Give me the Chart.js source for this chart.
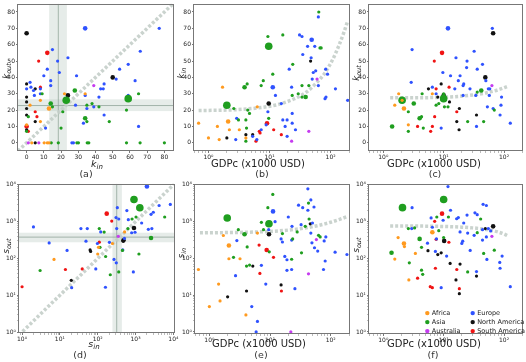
<!DOCTYPE html>
<html>
<head>
<meta charset="utf-8">
<script src="https://cdn.jsdelivr.net/npm/chart.js@4.4.1/dist/chart.umd.min.js"></script>
<style>
  html, body { margin: 0; padding: 0; background: #fff; }
  #wrap { position: relative; width: 526px; height: 362px; overflow: hidden; }
  canvas { position: absolute; }
</style>
</head>
<body>
<div id="wrap">
  <canvas id="pa" width="182" height="180" style="left:0px;top:0px"></canvas>
  <canvas id="pb" width="182" height="180" style="left:175px;top:0px"></canvas>
  <canvas id="pc" width="176" height="180" style="left:350px;top:0px"></canvas>
  <canvas id="pd" width="182" height="182" style="left:0px;top:180px"></canvas>
  <canvas id="pe" width="182" height="182" style="left:175px;top:180px"></canvas>
  <canvas id="pf" width="176" height="182" style="left:350px;top:180px"></canvas>
</div>
<script>
var continents = ['Africa', 'Asia', 'Australia', 'Europe', 'North America', 'South America'];
var continentColors = ['#ff9a1f', '#1f9e1f', '#c63cf0', '#2f52ff', '#111111', '#f01414'];

// axis ticks / ranges
var kTicks = [0, 10, 20, 30, 40, 50, 60, 70, 80];
var kRange = [-5, 85];
var gdpTicks = [1, 10, 100];
var gdpRange = [0.58, 200];
var sTicks = [1, 10, 100, 1000, 10000];
var dRangeX = [0.83, 10400];
var dRangeY = [0.94, 10700];
var sRangeY = [0.88, 10700];

// points: [continent, x, y, size]
// (a) k_in vs k_out
var aPoints = [
  [4,0,67,2],[4,0,36],[4,0,28],[4,0,25],[4,0,21],[4,0,17],[4,0,8],[4,5,33],[4,5,13],[4,5,0],[4,24,29,2],[4,50,40,2],
  [3,0,33],[3,2,37],[3,2.5,34],[3,4,32],[3,4.5,29],[3,8,33],[3,8,30],[3,10,41],[3,12,45],[3,11,9],[3,14,38],[3,14,35],
  [3,15,57],[3,18,50],[3,19,43],[3,24,52],[3,29,41],[3,28.4,23],[3,34,70,2],[3,34,29],[3,35,21],[3,33,12],[3,39,22],
  [3,42,28],[3,43,33],[3,44.5,33],[3,45,36],[3,45,17],[3,52,39],[3,54,45],[3,59,48],[3,59,29],[3,63,38],[3,66,56],
  [3,65,10],[3,77,70],[3,26.3,0],[3,27.2,0],
  [5,0,10,2],[5,1,7],[5,5,19],[5,6,16],[5,7,50],[5,12,55,2],[5,8,34],
  [0,0,11],[0,2,23],[0,8,26],[0,8,13],[0,13,21,2],[0,22,30],[0,34,30],[0,3,0],[0,10.2,0],[0,12,0],[0,13,0],
  [1,1,16],[1,0,7],[1,9,30],[1,14,24,2],[1,15,22],[1,21,19],[1,20,9],[1,23,26,3],[1,28,32,2],[1,35,23],[1,34,15,2],
  [1,35,13],[1,38,24],[1,42,22],[1,48,13],[1,59,27,3],[1,58,20],[1,65,30],[1,14.3,0],[1,18.4,0],[1,29.2,0],[1,30.1,0],
  [1,35.2,0],[1,36.1,0],[1,58,0],[1,65.9,0],[1,80,0],
  [2,39,35],[2,1,0],[2,7.1,0]
];
var aDiagX = [-5, 85];
var aDiagY = [-5, 85];
var aBandX = [13.1, 18.4, 23.4];
var aBandY = [19.4, 22.8, 26.6];

// (b) GDPc vs k_in
var bPoints = [
  [1,64,80],[1,16.5,66],[1,9.4,65],[1,9.7,59,3],[1,67,58],[1,70,58],[1,24,48],[1,11.3,42],[1,7.9,38],[1,4.3,36],
  [1,3.9,34,2],[1,7.3,35],[1,34,35],[1,44,35],[1,29.5,30],[1,23.5,29],[1,34,28],[1,39,28,2],[1,2.0,23,3],[1,2.6,21],
  [1,4.4,20],[1,4.7,18],[1,3.1,14],[1,4.1,14],[1,9.7,15],[1,4.2,9],[1,4.1,1],
  [3,63,77],[3,31,66],[3,34,65],[3,49,63,2],[3,42,59],[3,55,59],[3,35,54],[3,48,52],[3,21,45],[3,83,45],[3,89,42],
  [3,57,44],[3,52,43],[3,50,39],[3,11.3,34,2],[3,23,34],[3,63,35],[3,12.5,29],[3,120,33],[3,81,27],[3,84,28],[3,190,26],
  [3,15.6,24],[3,9.4,19],[3,23.5,18],[3,2.9,15],[3,16.5,14],[3,19.4,14],[3,23.5,12],[3,18,10],[3,8.8,11],[3,7.3,8],
  [3,26.6,8],[3,6.2,2],[3,2.8,2],[3,19.4,4],[3,5.3,4],
  [4,47,50],[4,9.7,24,2],[4,2.0,3],[4,4.1,5],[4,5.3,5],
  [0,1.7,34],[0,6.3,22],[0,0.69,12],[0,2.1,13,2],[0,1.4,10],[0,2.2,8],[0,3.2,8],[0,1.0,3],[0,1.5,2],[0,4.1,3],
  [5,9.1,12,2],[5,11.7,8],[5,6.8,7],[5,7.0,6],[5,6.0,1],[5,15.6,5],
  [2,60,39],[2,23,1],[2,44,7]
];
var bTrendX = [0.69, 3, 8, 15, 25, 40, 60, 80, 105, 135, 165, 190];
var bTrendY = [19.7, 20.3, 21.8, 23.8, 26.8, 31, 37, 42.5, 50, 59, 67.5, 74.5];

// (c) GDPc vs k_out
var cPoints = [
  [3,11.8,70,2],[3,64,70],[3,3.0,57],[3,32,56],[3,16,52],[3,24.4,50],[3,44,48],[3,24,46],[3,36,45],[3,9.7,43],[3,13,41],
  [3,18.7,41],[3,50,38],[3,17.5,38],[3,2.9,37],[3,21.5,36],[3,21,35],[3,6.5,34],[3,15.3,33],[3,55,33],[3,58,33],
  [3,27.3,33],[3,7.5,30],[3,21,29],[3,34,29],[3,57,29],[3,91,28],[3,53,22],[3,66,21],[3,89,23],[3,9.1,9],[3,35,10],
  [3,86,17],[3,127,12],
  [4,66,67,2],[4,49,40,2],[4,9.1,36],[4,5.6,33],[4,10,29,2],[4,8,28],[4,12.5,25],[4,18.2,21],[4,16.5,13],[4,35,17],[4,18,8],
  [5,9.4,55,2],[5,7.0,50],[5,12.3,34],[5,7.5,33],[5,16.5,19],[5,7.1,16],[5,3.7,10],[5,6.5,10],[5,6.1,7],
  [0,1.8,30],[0,6.5,30],[0,2.05,26],[0,1.55,23],[0,2.2,21,2],[0,2.6,11],
  [1,4.4,30],[1,10,30],[1,42,32,2],[1,36,31],[1,2.05,26,3],[1,10,27,3],[1,3.2,24,2],[1,8.3,24],[1,7.5,23],[1,10.3,22],
  [1,11.8,22],[1,69,20],[1,2.6,19],[1,4.0,15,2],[1,4.3,16],[1,25,13],[1,46,13],[1,1.4,10,2],[1,4.6,9],[1,2.6,7],
  [2,63,35]
];
var cTrendX = [1.3, 5, 15, 30, 50, 80, 115];
var cTrendY = [27.5, 27.6, 28.2, 29.2, 30.5, 32.4, 34.5];

// (d) s_in vs s_out
var dPoints = [
  [3,2000,9000,2],[3,8300,2950],[3,4200,2750],[3,330,2400],[3,590,2000],[3,2950,1800],[3,2570,1580],[3,305,1290],
  [3,360,1180],[3,645,1130],[3,1450,920],[3,2.0,720],[3,36,650],[3,53,650],[3,318,650],[3,2180,620],[3,2700,650],
  [3,120,525],[3,970,515],[3,790,500],[3,510,350],[3,49,295],[3,5.2,265],[3,98,255],[3,204,275],[3,15.5,165],[3,460,170],
  [3,270,94],[3,310,76],[3,89,52],[3,875,43],[3,20.5,16],[3,160,16.5],
  [1,910,4000,3],[1,1300,2400,3],[1,5900,1340],[1,1030,1340],[1,810,1180],[1,110,650],[1,630,650],[1,148,520],
  [1,2570,360,2],[1,115,200],[1,1230,132],[1,162,113],[1,3.0,47],[1,360,43],[1,215,36],[1,450,165],
  [5,173,1650,2],[5,235,1040],[5,14,50],[5,39,52],[5,1.0,17],[5,110,277],
  [0,515,525],[0,245,255],[0,105,200],[0,100,132],[0,7.0,94],
  [2,350,400],
  [4,480,310,2],[4,470,295],[4,63,170],[4,65,155],[4,20,25.5],[4,910,670,2]
];
var dDiagX = [0.83, 10700];
var dDiagY = [0.83, 10700];
var dBandX = [245, 318, 435];
var dBandY = [275, 380, 500];

// (e) GDPc vs s_in
var ePoints = [
  [3,42,7800],[3,47,3900],[3,29.5,2800],[3,34.5,2400],[3,53,2500],[3,42,2040],[3,11.2,1900,2],[3,20,1340],[3,12.1,1000],
  [3,50,920],[3,32.5,830],[3,23,745],[3,9.5,605],[3,47,490],[3,83,385],[3,2.84,305],[3,15.2,340],[3,16,280],[3,22.7,315],
  [3,78,300],[3,49,265],[3,54,195],[3,61,158],[3,118,148],[3,185,128],[3,17.5,113],[3,19,92],[3,81,85],[3,7.2,65],
  [3,19,47.5],[3,22.7,50],[3,76,50],[3,2.7,34],[3,8.5,20],[3,25.7,15],[3,5.0,4.9],[3,6.2,1.94],[3,5.9,1],
  [1,11.1,5500],[1,43,3200],[1,9.2,2400],[1,1.97,1260,3],[1,44,1180],[1,7.2,960],[1,9.6,880,3],[1,38,745],[1,3.0,605],
  [1,7.8,605],[1,3.8,455,2],[1,16,475],[1,28,525],[1,63,425],[1,67,385],[1,23.6,340],[1,4.2,205],[1,9.7,151],[1,33,142],
  [1,2.5,107],[1,22.7,95],[1,4.1,62],[1,4.6,66],
  [4,9.6,455,2],[4,46,870],[4,5.2,62],[4,15.2,19],[4,4.1,13],[4,2.0,9],
  [0,6.2,490],[0,1.7,420],[0,2.1,225,2],[0,2.1,98],[0,3.2,98],[0,0.66,50],[0,1.42,20],[0,1.5,7],[0,1.0,4.9],[0,4.0,2.9],
  [5,6.6,230],[5,8.8,170,2],[5,11.4,107],[5,6.8,39],[5,15.4,13],
  [2,58,325],[2,43,38],[2,22,1]
];
var eTrendX = [0.7, 3, 10, 17, 30, 42, 60, 80, 100, 140, 190];
var eTrendY = [498, 509, 542, 575, 636, 692, 777, 871, 965, 1153, 1388];

// (f) GDPc vs s_out
var fPoints = [
  [3,11.8,9000],[3,3.0,2400],[3,45,2950],[3,51,2750],[3,13,2040],[3,33,1740],[3,36,1550],[3,24.4,1510],[3,17.5,1290],
  [3,16.4,1200],[3,6.2,1260],[3,9.8,1090],[3,21.5,920],[3,6.5,705],[3,2.96,650],[3,44,605],[3,55,650],[3,60,560],
  [3,18.7,525],[3,25,490],[3,32,425],[3,51,385],[3,44,315],[3,7.6,340],[3,20.7,295],[3,20,255],[3,5.4,260],[3,27.5,165],
  [3,7.3,155],[3,11.2,116],[3,93,116],[3,52,94],[3,85,78],[3,86,54],[3,35,44],[3,127,17],[3,9.1,16],
  [1,10,4000,3],[1,2.08,2400,3],[1,12,1340],[1,7.7,1340],[1,41,1180],[1,2.6,650],[1,3.3,675],[1,8.3,570],[1,36,500],
  [1,10,370],[1,4.0,340,2],[1,69,168],[1,4.3,200],[1,1.37,142,2],[1,46,137],[1,2.7,76],[1,4.3,48],[1,4.5,37],[1,25,43],
  [5,9.4,1650,2],[5,7.1,1020],[5,7.5,330],[5,12.2,275],[5,7.3,54],[5,16.5,50],[5,3.7,29],[5,6,17],[5,6.5,16],[5,18.2,15],
  [4,66,745,2],[4,49,650],[4,10.2,300,2],[4,5.5,162],[4,9.1,142],[4,8,127],[4,12.8,73],[4,18.7,70],[4,35,33],[4,16,26],[4,18.2,11],
  [0,6.5,515,2],[0,1.76,370],[0,2.2,255,2],[0,2.24,210],[0,3.4,137],[0,1.55,96],[0,2.65,26],
  [2,63,400]
];
var fTrendX = [1.3, 3, 10, 20, 30, 42, 60, 80, 100, 117];
var fTrendY = [766, 761, 739, 708, 677, 640, 584, 522, 460, 407];

var dotRadius = [0, 1.6, 2.3, 3.8];
var trendColor = 'rgba(196,206,201,0.9)';
var FONT = '"DejaVu Sans"';
var supDigits = ['\u2070', '\u00b9', '\u00b2', '\u00b3', '\u2074'];

function minorTicks(lo, hi) {
  var out = [];
  for (var e = Math.floor(Math.log10(lo)); e <= Math.ceil(Math.log10(hi)); e++) {
    for (var m = 2; m <= 9; m++) {
      var v = m * Math.pow(10, e);
      if (v >= lo && v <= hi) out.push(v);
    }
  }
  return out;
}

function makeAxis(type, range, majors, boxSize) {
  var isLog = type === 'logarithmic';
  return {
    type: type,
    min: range[0],
    max: range[1],
    afterBuildTicks: function (scale) {
      var t = majors.map(function (v) { return { value: v, major: true }; });
      if (isLog) minorTicks(range[0], range[1]).forEach(function (v) { t.push({ value: v, major: false }); });
      t.sort(function (p, q) { return p.value - q.value; });
      scale.ticks = t;
    },
    afterFit: function (scale) {
      if (scale.isHorizontal()) scale.height = boxSize; else scale.width = boxSize;
      scale.paddingLeft = 0; scale.paddingRight = 0; scale.paddingTop = 0; scale.paddingBottom = 0;
    },
    grid: {
      drawOnChartArea: false, drawTicks: true, tickLength: 2, lineWidth: 0.8,
      tickColor: function (c) { return c.tick && c.tick.major ? '#555' : '#aaa'; }
    },
    border: { display: false },
    ticks: {
      autoSkip: false, maxRotation: 0, padding: 1, color: '#222',
      font: { family: 'DejaVu Sans', size: 6 },
      callback: function (v) {
        if (majors.indexOf(v) < 0) return '';
        if (isLog) return '10' + supDigits[Math.round(Math.log10(v))];
        return String(v);
      }
    }
  };
}

// parts: [text, kind], kind i = italic symbol, sub = subscript, n = plain
function drawRich(ctx, parts, cx, baseY, big) {
  var fonts = {
    i: 'italic ' + (big ? 9.5 : 8.5) + 'px ' + FONT,
    sub: 'italic ' + (big ? 7 : 6.5) + 'px ' + FONT,
    n: '10px ' + FONT
  };
  var widths = [], total = 0;
  parts.forEach(function (p) { ctx.font = fonts[p[1]]; var w = ctx.measureText(p[0]).width; widths.push(w); total += w; });
  var x = cx - total / 2;
  ctx.textAlign = 'left';
  ctx.textBaseline = 'alphabetic';
  parts.forEach(function (p, i) {
    ctx.font = fonts[p[1]];
    ctx.fillText(p[0], x, baseY + (p[1] === 'sub' ? 2.5 : 0));
    x += widths[i];
  });
}

function decorPlugin(p) {
  return {
    id: 'decor',
    beforeDatasetsDraw: function (chart) {
      if (!p.bandX) return;
      var ctx = chart.ctx, a = chart.chartArea, xs = chart.scales.x, ys = chart.scales.y;
      ctx.save();
      ctx.beginPath(); ctx.rect(a.left, a.top, a.right - a.left, a.bottom - a.top); ctx.clip();
      ctx.fillStyle = 'rgba(165,188,176,0.28)';
      var x0 = xs.getPixelForValue(p.bandX[0]), x1 = xs.getPixelForValue(p.bandX[2]);
      ctx.fillRect(x0, a.top, x1 - x0, a.bottom - a.top);
      var y0 = ys.getPixelForValue(p.bandY[2]), y1 = ys.getPixelForValue(p.bandY[0]);
      ctx.fillRect(a.left, y0, a.right - a.left, y1 - y0);
      ctx.strokeStyle = 'rgba(140,160,150,0.75)';
      ctx.lineWidth = 1;
      var xc = xs.getPixelForValue(p.bandX[1]), yc = ys.getPixelForValue(p.bandY[1]);
      ctx.beginPath();
      ctx.moveTo(xc, a.top); ctx.lineTo(xc, a.bottom);
      ctx.moveTo(a.left, yc); ctx.lineTo(a.right, yc);
      ctx.stroke();
      ctx.restore();
    },
    afterDraw: function (chart) {
      var ctx = chart.ctx, a = chart.chartArea;
      ctx.save();
      // frame
      ctx.strokeStyle = '#777';
      ctx.lineWidth = 1;
      ctx.strokeRect(Math.round(a.left) - 0.5, Math.round(a.top) + 0.5, Math.round(a.right - a.left) + 1, Math.round(a.bottom - a.top) - 1);
      // x title + caption
      ctx.fillStyle = '#222';
      drawRich(ctx, p.xTitle, p.xTitleX, p.xTitleY, true);
      ctx.font = '9.5px ' + FONT;
      ctx.fillStyle = '#333';
      ctx.textAlign = 'center';
      ctx.textBaseline = 'alphabetic';
      ctx.fillText(p.caption, p.captionX, p.captionY);
      // y title (rotated)
      ctx.fillStyle = '#222';
      ctx.save();
      ctx.translate(8.5, p.yTitleY);
      ctx.rotate(-Math.PI / 2);
      drawRich(ctx, p.yTitle, 0, 0, false);
      ctx.restore();
      // legend
      if (p.legend) {
        ctx.font = '6.5px ' + FONT;
        ctx.textAlign = 'left';
        ctx.textBaseline = 'middle';
        continents.forEach(function (name, i) {
          var lx = a.left + (i < 3 ? 58.3 : 103.7);
          var ly = a.top + [129.3, 138.3, 147.3][i % 3];
          ctx.fillStyle = continentColors[i];
          ctx.beginPath(); ctx.arc(lx, ly, 2.2, 0, Math.PI * 2); ctx.fill();
          ctx.fillStyle = '#222';
          ctx.fillText(name, lx + 4.5, ly + 0.3);
        });
      }
      ctx.restore();
    }
  };
}

function buildChart(p) {
  var datasets = [];
  continents.forEach(function (name, ci) {
    datasets.push({
      label: name,
      data: p.points.filter(function (r) { return r[0] === ci; })
        .map(function (r) { return { x: r[1], y: r[2], s: r[3] || 1 }; }),
      backgroundColor: continentColors[ci],
      borderWidth: 0,
      pointRadius: function (c) { return dotRadius[(c.raw && c.raw.s) || 1]; },
      pointHoverRadius: 0,
      order: 1
    });
  });
  datasets.push({
    type: 'line',
    label: 'trend',
    data: p.lineX.map(function (x, i) { return { x: x, y: p.lineY[i] }; }),
    borderColor: trendColor,
    borderWidth: 3.5,
    borderDash: [3, 2],
    pointRadius: 0,
    fill: false,
    cubicInterpolationMode: 'monotone',
    order: 5
  });

  new Chart(document.getElementById(p.id), {
    type: 'scatter',
    data: { datasets: datasets },
    options: {
      responsive: false,
      animation: false,
      events: [],
      layout: { padding: p.pad },
      scales: {
        x: makeAxis(p.xType, p.xRange, p.xTicks, p.xH),
        y: makeAxis(p.yType, p.yRange, p.yTicks, p.yW)
      },
      plugins: { legend: { display: false }, tooltip: { enabled: false } }
    },
    plugins: [decorPlugin(p)]
  });
}

var kIn = [['k', 'i'], ['in', 'sub']];
var kOut = [['k', 'i'], ['out', 'sub']];
var sIn = [['s', 'i'], ['in', 'sub']];
var sOut = [['s', 'i'], ['out', 'sub']];
var gdpTitle = [['GDPc (x1000 USD)', 'n']];

var panels = [
  { id: 'pa', points: aPoints, lineX: aDiagX, lineY: aDiagY, bandX: aBandX, bandY: aBandY,
    xType: 'linear', yType: 'linear', xRange: kRange, yRange: kRange, xTicks: kTicks, yTicks: kTicks,
    xTitle: kIn, yTitle: kOut, caption: '(a)', xTitleX: 97, xTitleY: 166.5, captionX: 86, captionY: 176.5, yTitleY: 71,
    yW: 18, xH: 29, pad: { top: 1, right: 9, left: 0, bottom: 0 } },
  { id: 'pb', points: bPoints, lineX: bTrendX, lineY: bTrendY,
    xType: 'logarithmic', yType: 'linear', xRange: gdpRange, yRange: kRange, xTicks: gdpTicks, yTicks: kTicks,
    xTitle: gdpTitle, yTitle: kIn, caption: '(b)', xTitleX: 83, xTitleY: 166.5, captionX: 87, captionY: 176.5, yTitleY: 73,
    yW: 19, xH: 29, pad: { top: 1, right: 8, left: 0, bottom: 0 } },
  { id: 'pc', points: cPoints, lineX: cTrendX, lineY: cTrendY,
    xType: 'logarithmic', yType: 'linear', xRange: gdpRange, yRange: kRange, xTicks: gdpTicks, yTicks: kTicks,
    xTitle: gdpTitle, yTitle: kOut, caption: '(c)', xTitleX: 84, xTitleY: 166.5, captionX: 85, captionY: 176.5, yTitleY: 73,
    yW: 19, xH: 29, pad: { top: 1, right: 2, left: 0, bottom: 0 } },
  { id: 'pd', points: dPoints, lineX: dDiagX, lineY: dDiagY, bandX: dBandX, bandY: dBandY,
    xType: 'logarithmic', yType: 'logarithmic', xRange: dRangeX, yRange: dRangeY, xTicks: sTicks, yTicks: sTicks,
    xTitle: sIn, yTitle: sOut, caption: '(d)', xTitleX: 94, xTitleY: 166.5, captionX: 80, captionY: 178, yTitleY: 66,
    yW: 19, xH: 29, pad: { top: 3, right: 8, left: 0, bottom: 0 } },
  { id: 'pe', points: ePoints, lineX: eTrendX, lineY: eTrendY,
    xType: 'logarithmic', yType: 'logarithmic', xRange: gdpRange, yRange: sRangeY, xTicks: gdpTicks, yTicks: sTicks,
    xTitle: gdpTitle, yTitle: sIn, caption: '(e)', xTitleX: 84, xTitleY: 166.5, captionX: 86, captionY: 178, yTitleY: 73,
    yW: 20, xH: 28, pad: { top: 3, right: 8, left: 0, bottom: 0 } },
  { id: 'pf', points: fPoints, lineX: fTrendX, lineY: fTrendY, legend: true,
    xType: 'logarithmic', yType: 'logarithmic', xRange: gdpRange, yRange: sRangeY, xTicks: gdpTicks, yTicks: sTicks,
    xTitle: gdpTitle, yTitle: sOut, caption: '(f)', xTitleX: 84, xTitleY: 166.5, captionX: 83, captionY: 178, yTitleY: 65,
    yW: 19, xH: 28, pad: { top: 3, right: 2, left: 0, bottom: 0 } }
];

panels.forEach(buildChart);
</script>
</body>
</html>
